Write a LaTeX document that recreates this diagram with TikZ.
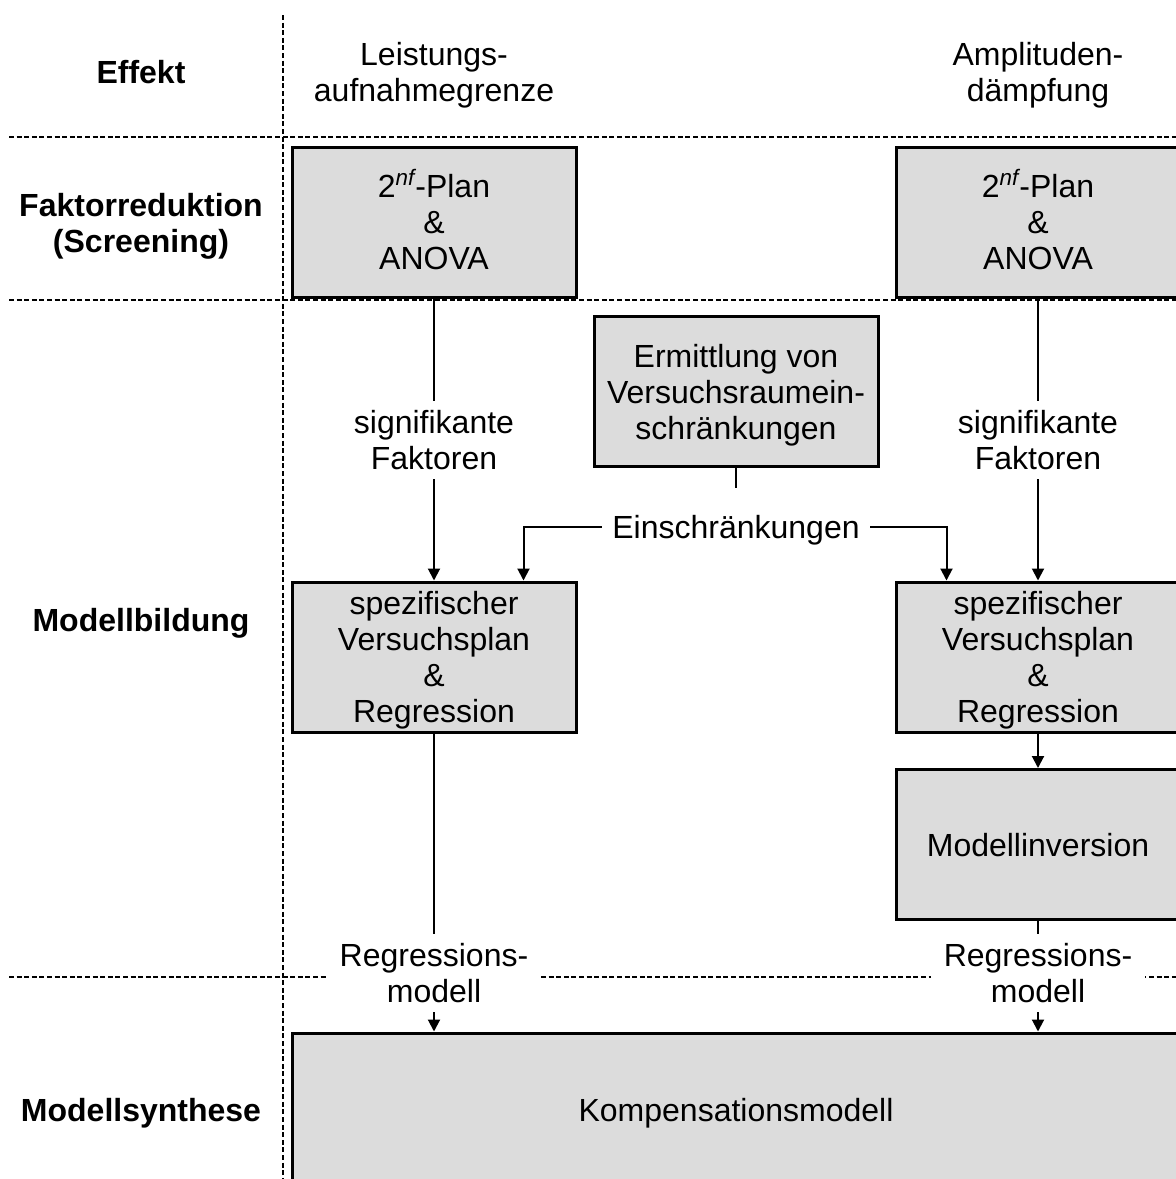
\documentclass[tikz,border=0pt]{standalone}
\usepackage{fontspec}
\setmainfont{Liberation Sans}
\usetikzlibrary{arrows.meta,calc}
\definecolor{boxgray}{HTML}{DCDCDC}
% equal struts for the first and last line, so text blocks sit centred on their letters
\newcommand{\topstr}{\rule{0pt}{15.1pt}}
\newcommand{\botstr}{\rule[-3.5pt]{0pt}{3.5pt}}

\begin{document}
\begin{tikzpicture}[x=0.5pt,y=-0.5pt,
  font=\fontsize{16}{18}\selectfont,
  txt/.style={align=center},
  box/.style={txt, draw=black, line width=1.5pt, fill=boxgray, minimum width=142pt,
              minimum height=75pt, inner sep=0pt},
  lbl/.style={txt, fill=white, inner xsep=6.5pt, inner ysep=1pt},
  rowlabel/.style={txt, font=\fontsize{16}{18}\selectfont\bfseries},
  head/.style={txt},
  grid/.style={line width=1.4pt, dash pattern=on 2.5pt off 1.3pt},
  conn/.style={line width=1pt},
  arr/.style={conn, -{Triangle[length=6pt,width=6pt]}}
]
% page frame
\clip (0,0) rectangle (1176,1179);
\fill[white] (0,0) rectangle (1176,1179);

% phase grid
\coordinate (vtop) at (283,15);
\coordinate (vbot) at (283,1179);
\draw[grid] (vtop) -- (vbot);
\foreach \yy/\nm in {137/ga,300/gb,977/gc}{
  \coordinate (\nm l) at (9,\yy);
  \coordinate (\nm r) at (1176,\yy);
  \draw[grid] (\nm l) -- (\nm r);
}

% phase names
\node[rowlabel] (rEff)  at (141,72)   {\topstr Effekt\botstr};
\node[rowlabel] (rFak)  at (141,223)  {\topstr Faktorreduktion\\(Screening)\botstr};
\node[rowlabel] (rMod)  at (141,620)  {\topstr Modellbildung\botstr};
\node[rowlabel] (rSyn)  at (141,1110) {\topstr Modellsynthese\botstr};

% effects
\node[head] (hL) at (434,71.5)  {\topstr Leistungs-\\aufnahmegrenze\botstr};
\node[head] (hR) at (1038,71.5) {\topstr Amplituden-\\dämpfung\botstr};

% process boxes
\node[box] (lscr) at (434,222)  {\topstr 2\textsuperscript{\itshape nf}-Plan\\\&\\ANOVA\botstr};
\node[box] (rscr) at (1038,222) {\topstr 2\textsuperscript{\itshape nf}-Plan\\\&\\ANOVA\botstr};
\node[box] (erm)  at (736,391.5) {\topstr Ermittlung von\\Versuchsraumein-\\schränkungen\botstr};
\node[box] (lspez) at (434,657)  {\topstr spezifischer\\Versuchsplan\\\&\\Regression\botstr};
\node[box] (rspez) at (1038,657) {\topstr spezifischer\\Versuchsplan\\\&\\Regression\botstr};
\node[box] (inv)  at (1038,844.5) {\topstr Modellinversion\botstr};
\node[box, minimum width=444pt, minimum height=77pt] (komp) at (736,1110) {\topstr Kompensationsmodell\botstr};

% labels on connectors
\node[lbl, inner xsep=7.5pt] (lsig) at (434,440)  {\topstr signifikante\\Faktoren\botstr};
\node[lbl, inner xsep=7.5pt] (rsig) at (1038,440) {\topstr signifikante\\Faktoren\botstr};
\node[lbl, inner xsep=5pt, minimum height=39pt] (ein) at (736,527) {\topstr Einschränkungen\botstr};
\node[lbl] (lreg) at (434,973)  {\topstr Regressions-\\modell\botstr};
\node[lbl] (rreg) at (1038,973) {\topstr Regressions-\\modell\botstr};

% connectors
\draw[conn] (lscr.south) -- (lsig.north);
\draw[arr]  (lsig.south) -- (lspez.north);
\draw[conn] (rscr.south) -- (rsig.north);
\draw[arr]  (rsig.south) -- (rspez.north);

\draw[conn] (erm.south) -- (ein.north);
\coordinate (lin) at ($(lspez.north east)+(-54,0)$);
\coordinate (rin) at ($(rspez.north west)+(52,0)$);
\draw[arr] (ein.west) -| (lin);
\draw[arr] (ein.east) -| (rin);

\draw[conn] (lspez.south) -- (lreg.north);
\draw[arr]  (lreg.south) -- (komp.north -| lreg.south);
\draw[arr]  (rspez.south) -- (inv.north);
\draw[conn] (inv.south) -- (rreg.north);
\draw[arr]  (rreg.south) -- (komp.north -| rreg.south);
\end{tikzpicture}
\end{document}
